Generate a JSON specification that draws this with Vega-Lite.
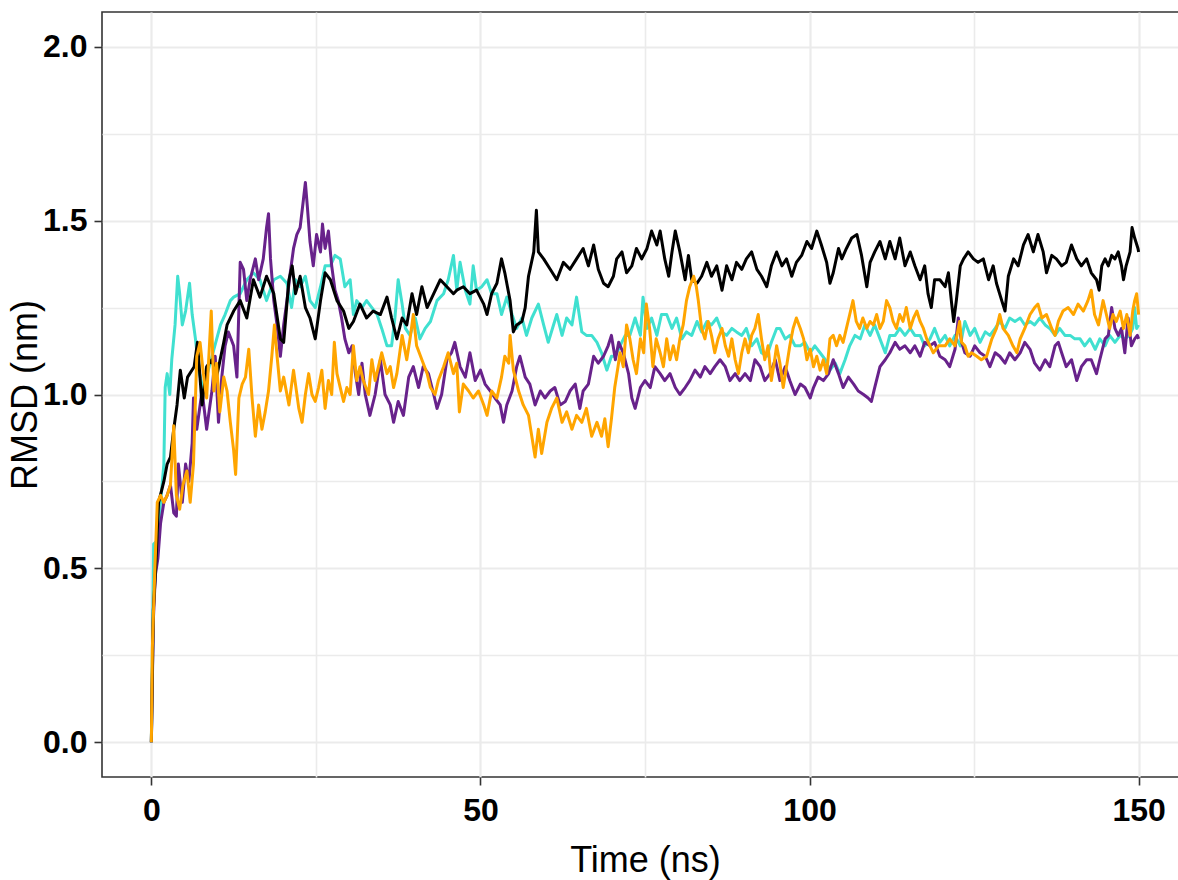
{
"$schema": "https://vega.github.io/schema/vega-lite/v6.json",
"width": 1086, "height": 765,
"autosize": {"type": "none"},
"padding": {"left": 102, "top": 12, "right": 0, "bottom": 103},
"background": "white",
"config": {"view": {"stroke": "#333333", "strokeWidth": 1.6}},
"data": {"values": [
{"s":"T","t":0,"v":0},{"s":"T","t":0.35,"v":0.57},{"s":"T","t":0.9,"v":0.58},{"s":"T","t":1.4,"v":0.69},{"s":"T","t":1.9,"v":0.8},{"s":"T","t":2.1,"v":1.02},{"s":"T","t":2.4,"v":1.06},{"s":"T","t":2.8,"v":1.0},{"s":"T","t":3.1,"v":1.1},{"s":"T","t":3.6,"v":1.2},{"s":"T","t":4.0,"v":1.34},{"s":"T","t":4.3,"v":1.29},{"s":"T","t":4.7,"v":1.2},{"s":"T","t":5.2,"v":1.24},{"s":"T","t":5.8,"v":1.32},{"s":"T","t":6.2,"v":1.23},{"s":"T","t":6.7,"v":1.16},{"s":"T","t":7.2,"v":1.07},{"s":"T","t":7.8,"v":1.02},{"s":"T","t":8.5,"v":1.06},{"s":"T","t":9.5,"v":1.13},{"s":"T","t":10.5,"v":1.2},{"s":"T","t":11.2,"v":1.23},{"s":"T","t":12.0,"v":1.27},{"s":"T","t":12.5,"v":1.28},{"s":"T","t":13.5,"v":1.29},{"s":"T","t":14.5,"v":1.33},{"s":"T","t":15.5,"v":1.35},{"s":"T","t":16.5,"v":1.33},{"s":"T","t":17.5,"v":1.27},{"s":"T","t":18.6,"v":1.33},{"s":"T","t":19.6,"v":1.34},{"s":"T","t":20.6,"v":1.32},{"s":"T","t":21.3,"v":1.25},{"s":"T","t":21.9,"v":1.33},{"s":"T","t":22.6,"v":1.31},{"s":"T","t":23.4,"v":1.34},{"s":"T","t":24.1,"v":1.27},{"s":"T","t":24.9,"v":1.25},{"s":"T","t":25.7,"v":1.31},{"s":"T","t":26.4,"v":1.37},{"s":"T","t":27.2,"v":1.37},{"s":"T","t":27.9,"v":1.4},{"s":"T","t":28.7,"v":1.39},{"s":"T","t":29.4,"v":1.31},{"s":"T","t":30.2,"v":1.33},{"s":"T","t":30.7,"v":1.23},{"s":"T","t":31.2,"v":1.27},{"s":"T","t":32.0,"v":1.25},{"s":"T","t":32.7,"v":1.27},{"s":"T","t":33.5,"v":1.25},{"s":"T","t":34.3,"v":1.23},{"s":"T","t":35.0,"v":1.19},{"s":"T","t":35.8,"v":1.14},{"s":"T","t":36.5,"v":1.14},{"s":"T","t":37.0,"v":1.22},{"s":"T","t":37.5,"v":1.33},{"s":"T","t":38.1,"v":1.26},{"s":"T","t":38.6,"v":1.19},{"s":"T","t":39.3,"v":1.17},{"s":"T","t":40.1,"v":1.22},{"s":"T","t":40.8,"v":1.16},{"s":"T","t":41.6,"v":1.19},{"s":"T","t":42.4,"v":1.21},{"s":"T","t":43.4,"v":1.27},{"s":"T","t":44.4,"v":1.29},{"s":"T","t":45.1,"v":1.33},{"s":"T","t":45.9,"v":1.4},{"s":"T","t":46.4,"v":1.3},{"s":"T","t":46.9,"v":1.38},{"s":"T","t":47.7,"v":1.3},{"s":"T","t":48.4,"v":1.26},{"s":"T","t":48.9,"v":1.37},{"s":"T","t":49.4,"v":1.3},{"s":"T","t":50.2,"v":1.31},{"s":"T","t":51.0,"v":1.33},{"s":"T","t":51.7,"v":1.29},{"s":"T","t":52.5,"v":1.29},{"s":"T","t":53.2,"v":1.23},{"s":"T","t":54.0,"v":1.28},{"s":"T","t":54.8,"v":1.23},{"s":"T","t":55.5,"v":1.19},{"s":"T","t":56.3,"v":1.22},{"s":"T","t":57.0,"v":1.17},{"s":"T","t":57.8,"v":1.22},{"s":"T","t":58.8,"v":1.26},{"s":"T","t":59.6,"v":1.2},{"s":"T","t":60.3,"v":1.15},{"s":"T","t":61.1,"v":1.2},{"s":"T","t":61.6,"v":1.23},{"s":"T","t":62.4,"v":1.17},{"s":"T","t":63.1,"v":1.22},{"s":"T","t":63.9,"v":1.2},{"s":"T","t":64.6,"v":1.28},{"s":"T","t":65.4,"v":1.18},{"s":"T","t":66.1,"v":1.17},{"s":"T","t":66.9,"v":1.17},{"s":"T","t":67.7,"v":1.15},{"s":"T","t":68.4,"v":1.12},{"s":"T","t":69.2,"v":1.07},{"s":"T","t":69.9,"v":1.11},{"s":"T","t":70.5,"v":1.11},{"s":"T","t":71.2,"v":1.14},{"s":"T","t":72.0,"v":1.17},{"s":"T","t":72.7,"v":1.17},{"s":"T","t":73.5,"v":1.22},{"s":"T","t":74.3,"v":1.17},{"s":"T","t":74.7,"v":1.28},{"s":"T","t":75.3,"v":1.19},{"s":"T","t":76.0,"v":1.22},{"s":"T","t":76.8,"v":1.17},{"s":"T","t":77.5,"v":1.23},{"s":"T","t":78.3,"v":1.23},{"s":"T","t":79.1,"v":1.19},{"s":"T","t":79.8,"v":1.22},{"s":"T","t":80.6,"v":1.16},{"s":"T","t":81.3,"v":1.18},{"s":"T","t":82.1,"v":1.17},{"s":"T","t":82.9,"v":1.21},{"s":"T","t":83.6,"v":1.18},{"s":"T","t":84.4,"v":1.21},{"s":"T","t":85.1,"v":1.2},{"s":"T","t":85.9,"v":1.22},{"s":"T","t":86.7,"v":1.18},{"s":"T","t":87.4,"v":1.17},{"s":"T","t":88.2,"v":1.19},{"s":"T","t":88.9,"v":1.18},{"s":"T","t":89.7,"v":1.17},{"s":"T","t":90.4,"v":1.19},{"s":"T","t":91.2,"v":1.14},{"s":"T","t":92.0,"v":1.16},{"s":"T","t":92.7,"v":1.12},{"s":"T","t":93.5,"v":1.11},{"s":"T","t":94.2,"v":1.15},{"s":"T","t":95.0,"v":1.19},{"s":"T","t":95.5,"v":1.19},{"s":"T","t":96.3,"v":1.16},{"s":"T","t":97.0,"v":1.17},{"s":"T","t":97.8,"v":1.14},{"s":"T","t":98.6,"v":1.14},{"s":"T","t":99.3,"v":1.15},{"s":"T","t":100.1,"v":1.12},{"s":"T","t":100.8,"v":1.14},{"s":"T","t":101.6,"v":1.12},{"s":"T","t":102.4,"v":1.1},{"s":"T","t":103.1,"v":1.07},{"s":"T","t":103.9,"v":1.09},{"s":"T","t":104.6,"v":1.06},{"s":"T","t":105.4,"v":1.1},{"s":"T","t":106.1,"v":1.14},{"s":"T","t":106.9,"v":1.17},{"s":"T","t":107.7,"v":1.16},{"s":"T","t":108.4,"v":1.2},{"s":"T","t":109.2,"v":1.17},{"s":"T","t":109.9,"v":1.2},{"s":"T","t":110.7,"v":1.16},{"s":"T","t":111.5,"v":1.12},{"s":"T","t":112.2,"v":1.17},{"s":"T","t":113.0,"v":1.17},{"s":"T","t":113.7,"v":1.19},{"s":"T","t":114.5,"v":1.17},{"s":"T","t":115.3,"v":1.19},{"s":"T","t":116.0,"v":1.17},{"s":"T","t":116.8,"v":1.17},{"s":"T","t":117.5,"v":1.14},{"s":"T","t":118.3,"v":1.16},{"s":"T","t":119.0,"v":1.19},{"s":"T","t":119.8,"v":1.15},{"s":"T","t":120.6,"v":1.17},{"s":"T","t":121.3,"v":1.14},{"s":"T","t":122.1,"v":1.17},{"s":"T","t":122.9,"v":1.14},{"s":"T","t":123.6,"v":1.21},{"s":"T","t":124.4,"v":1.17},{"s":"T","t":125.1,"v":1.19},{"s":"T","t":125.9,"v":1.15},{"s":"T","t":126.7,"v":1.18},{"s":"T","t":127.4,"v":1.17},{"s":"T","t":128.2,"v":1.19},{"s":"T","t":128.9,"v":1.21},{"s":"T","t":129.7,"v":1.19},{"s":"T","t":130.4,"v":1.22},{"s":"T","t":131.2,"v":1.21},{"s":"T","t":132.0,"v":1.22},{"s":"T","t":132.7,"v":1.2},{"s":"T","t":133.5,"v":1.21},{"s":"T","t":134.2,"v":1.2},{"s":"T","t":135.0,"v":1.22},{"s":"T","t":135.8,"v":1.2},{"s":"T","t":136.5,"v":1.19},{"s":"T","t":137.3,"v":1.17},{"s":"T","t":138.0,"v":1.19},{"s":"T","t":138.8,"v":1.17},{"s":"T","t":139.6,"v":1.17},{"s":"T","t":140.3,"v":1.16},{"s":"T","t":141.1,"v":1.16},{"s":"T","t":141.8,"v":1.14},{"s":"T","t":142.6,"v":1.16},{"s":"T","t":143.4,"v":1.13},{"s":"T","t":144.1,"v":1.16},{"s":"T","t":144.9,"v":1.14},{"s":"T","t":145.6,"v":1.17},{"s":"T","t":146.4,"v":1.15},{"s":"T","t":147.2,"v":1.17},{"s":"T","t":147.9,"v":1.16},{"s":"T","t":148.6,"v":1.17},{"s":"T","t":149.1,"v":1.19},{"s":"T","t":149.4,"v":1.25},{"s":"T","t":149.7,"v":1.19},{"s":"T","t":150.0,"v":1.2},
{"s":"P","t":0,"v":0},{"s":"P","t":0.3,"v":0.35},{"s":"P","t":0.6,"v":0.48},{"s":"P","t":1.0,"v":0.53},{"s":"P","t":1.4,"v":0.63},{"s":"P","t":1.9,"v":0.69},{"s":"P","t":2.4,"v":0.71},{"s":"P","t":2.9,"v":0.74},{"s":"P","t":3.4,"v":0.66},{"s":"P","t":3.8,"v":0.65},{"s":"P","t":4.1,"v":0.8},{"s":"P","t":4.7,"v":0.69},{"s":"P","t":5.2,"v":0.8},{"s":"P","t":5.7,"v":0.75},{"s":"P","t":6.2,"v":0.86},{"s":"P","t":6.4,"v":0.99},{"s":"P","t":6.9,"v":0.9},{"s":"P","t":7.7,"v":1.01},{"s":"P","t":8.4,"v":0.9},{"s":"P","t":9.2,"v":1.01},{"s":"P","t":9.7,"v":1.11},{"s":"P","t":10.2,"v":0.92},{"s":"P","t":10.7,"v":1.05},{"s":"P","t":11.2,"v":1.14},{"s":"P","t":11.7,"v":1.18},{"s":"P","t":12.5,"v":1.14},{"s":"P","t":13.0,"v":1.05},{"s":"P","t":13.5,"v":1.38},{"s":"P","t":14.0,"v":1.36},{"s":"P","t":14.5,"v":1.27},{"s":"P","t":15.0,"v":1.33},{"s":"P","t":15.8,"v":1.39},{"s":"P","t":16.3,"v":1.33},{"s":"P","t":17.0,"v":1.39},{"s":"P","t":17.5,"v":1.48},{"s":"P","t":17.8,"v":1.52},{"s":"P","t":18.1,"v":1.39},{"s":"P","t":18.6,"v":1.27},{"s":"P","t":19.1,"v":1.2},{"s":"P","t":19.6,"v":1.11},{"s":"P","t":20.1,"v":1.2},{"s":"P","t":20.6,"v":1.27},{"s":"P","t":21.1,"v":1.35},{"s":"P","t":21.6,"v":1.42},{"s":"P","t":22.1,"v":1.46},{"s":"P","t":22.6,"v":1.48},{"s":"P","t":23.1,"v":1.56},{"s":"P","t":23.4,"v":1.61},{"s":"P","t":23.7,"v":1.54},{"s":"P","t":24.1,"v":1.44},{"s":"P","t":24.6,"v":1.37},{"s":"P","t":25.1,"v":1.46},{"s":"P","t":25.7,"v":1.41},{"s":"P","t":26.0,"v":1.49},{"s":"P","t":26.4,"v":1.42},{"s":"P","t":26.9,"v":1.47},{"s":"P","t":27.4,"v":1.37},{"s":"P","t":27.9,"v":1.3},{"s":"P","t":28.4,"v":1.27},{"s":"P","t":28.9,"v":1.22},{"s":"P","t":29.4,"v":1.16},{"s":"P","t":30.0,"v":1.12},{"s":"P","t":30.5,"v":1.14},{"s":"P","t":31.0,"v":1.06},{"s":"P","t":31.5,"v":1.0},{"s":"P","t":32.0,"v":1.09},{"s":"P","t":32.5,"v":1.0},{"s":"P","t":33.2,"v":0.94},{"s":"P","t":34.0,"v":1.0},{"s":"P","t":34.8,"v":1.1},{"s":"P","t":35.5,"v":1.0},{"s":"P","t":36.3,"v":0.97},{"s":"P","t":36.8,"v":0.92},{"s":"P","t":37.5,"v":0.98},{"s":"P","t":38.3,"v":0.94},{"s":"P","t":39.1,"v":1.05},{"s":"P","t":39.8,"v":1.08},{"s":"P","t":40.6,"v":1.02},{"s":"P","t":41.3,"v":1.08},{"s":"P","t":42.1,"v":1.06},{"s":"P","t":42.9,"v":1.0},{"s":"P","t":43.4,"v":0.96},{"s":"P","t":44.1,"v":1.0},{"s":"P","t":44.9,"v":1.1},{"s":"P","t":45.6,"v":1.12},{"s":"P","t":46.1,"v":1.15},{"s":"P","t":46.9,"v":1.08},{"s":"P","t":47.7,"v":1.05},{"s":"P","t":48.4,"v":1.12},{"s":"P","t":49.2,"v":1.04},{"s":"P","t":50.0,"v":1.07},{"s":"P","t":50.7,"v":1.03},{"s":"P","t":51.5,"v":1.01},{"s":"P","t":52.2,"v":0.99},{"s":"P","t":53.0,"v":0.97},{"s":"P","t":53.5,"v":0.92},{"s":"P","t":54.0,"v":0.97},{"s":"P","t":54.8,"v":1.01},{"s":"P","t":55.5,"v":1.08},{"s":"P","t":56.0,"v":1.11},{"s":"P","t":56.8,"v":1.05},{"s":"P","t":57.5,"v":1.03},{"s":"P","t":58.3,"v":0.97},{"s":"P","t":59.1,"v":1.01},{"s":"P","t":59.8,"v":0.99},{"s":"P","t":60.6,"v":1.01},{"s":"P","t":61.3,"v":1.02},{"s":"P","t":62.1,"v":0.97},{"s":"P","t":62.9,"v":0.98},{"s":"P","t":63.6,"v":1.01},{"s":"P","t":64.4,"v":1.03},{"s":"P","t":65.1,"v":0.96},{"s":"P","t":65.6,"v":1.01},{"s":"P","t":66.4,"v":1.03},{"s":"P","t":67.2,"v":1.11},{"s":"P","t":67.9,"v":1.09},{"s":"P","t":68.7,"v":1.11},{"s":"P","t":69.4,"v":1.14},{"s":"P","t":69.9,"v":1.17},{"s":"P","t":70.5,"v":1.1},{"s":"P","t":71.0,"v":1.15},{"s":"P","t":71.7,"v":1.12},{"s":"P","t":72.5,"v":1.06},{"s":"P","t":73.0,"v":0.99},{"s":"P","t":73.5,"v":0.96},{"s":"P","t":74.3,"v":1.02},{"s":"P","t":75.0,"v":1.04},{"s":"P","t":75.8,"v":1.02},{"s":"P","t":76.5,"v":1.08},{"s":"P","t":77.3,"v":1.06},{"s":"P","t":78.0,"v":1.04},{"s":"P","t":78.8,"v":1.06},{"s":"P","t":79.6,"v":1.02},{"s":"P","t":80.3,"v":1.0},{"s":"P","t":81.1,"v":1.02},{"s":"P","t":81.8,"v":1.04},{"s":"P","t":82.6,"v":1.07},{"s":"P","t":83.4,"v":1.05},{"s":"P","t":84.1,"v":1.08},{"s":"P","t":84.9,"v":1.06},{"s":"P","t":85.6,"v":1.08},{"s":"P","t":86.4,"v":1.1},{"s":"P","t":87.2,"v":1.08},{"s":"P","t":87.9,"v":1.04},{"s":"P","t":88.7,"v":1.06},{"s":"P","t":89.4,"v":1.04},{"s":"P","t":90.2,"v":1.06},{"s":"P","t":91.0,"v":1.04},{"s":"P","t":91.7,"v":1.1},{"s":"P","t":92.5,"v":1.08},{"s":"P","t":93.2,"v":1.04},{"s":"P","t":94.0,"v":1.06},{"s":"P","t":94.8,"v":1.1},{"s":"P","t":95.5,"v":1.04},{"s":"P","t":96.3,"v":1.08},{"s":"P","t":97.0,"v":1.04},{"s":"P","t":97.8,"v":1.0},{"s":"P","t":98.6,"v":1.03},{"s":"P","t":99.3,"v":1.02},{"s":"P","t":100.1,"v":0.99},{"s":"P","t":100.6,"v":1.02},{"s":"P","t":101.3,"v":1.05},{"s":"P","t":102.1,"v":1.04},{"s":"P","t":102.9,"v":1.06},{"s":"P","t":103.6,"v":1.1},{"s":"P","t":104.4,"v":1.06},{"s":"P","t":105.1,"v":1.02},{"s":"P","t":105.9,"v":1.05},{"s":"P","t":106.7,"v":1.03},{"s":"P","t":107.4,"v":1.01},{"s":"P","t":108.2,"v":1.0},{"s":"P","t":108.9,"v":0.99},{"s":"P","t":109.4,"v":0.98},{"s":"P","t":109.9,"v":1.02},{"s":"P","t":110.7,"v":1.08},{"s":"P","t":111.5,"v":1.1},{"s":"P","t":112.2,"v":1.12},{"s":"P","t":113.0,"v":1.15},{"s":"P","t":113.7,"v":1.13},{"s":"P","t":114.5,"v":1.14},{"s":"P","t":115.3,"v":1.12},{"s":"P","t":116.0,"v":1.14},{"s":"P","t":116.8,"v":1.11},{"s":"P","t":117.5,"v":1.15},{"s":"P","t":118.3,"v":1.14},{"s":"P","t":119.0,"v":1.15},{"s":"P","t":119.8,"v":1.11},{"s":"P","t":120.6,"v":1.1},{"s":"P","t":121.3,"v":1.08},{"s":"P","t":122.1,"v":1.13},{"s":"P","t":122.6,"v":1.22},{"s":"P","t":123.1,"v":1.15},{"s":"P","t":123.6,"v":1.12},{"s":"P","t":124.4,"v":1.11},{"s":"P","t":125.1,"v":1.14},{"s":"P","t":125.9,"v":1.12},{"s":"P","t":126.7,"v":1.11},{"s":"P","t":127.4,"v":1.08},{"s":"P","t":128.2,"v":1.12},{"s":"P","t":128.9,"v":1.11},{"s":"P","t":129.7,"v":1.09},{"s":"P","t":130.4,"v":1.12},{"s":"P","t":131.2,"v":1.1},{"s":"P","t":132.0,"v":1.12},{"s":"P","t":132.7,"v":1.15},{"s":"P","t":133.5,"v":1.13},{"s":"P","t":134.2,"v":1.09},{"s":"P","t":135.0,"v":1.07},{"s":"P","t":135.8,"v":1.1},{"s":"P","t":136.5,"v":1.08},{"s":"P","t":137.3,"v":1.14},{"s":"P","t":137.8,"v":1.15},{"s":"P","t":138.3,"v":1.12},{"s":"P","t":139.0,"v":1.08},{"s":"P","t":139.8,"v":1.1},{"s":"P","t":140.6,"v":1.04},{"s":"P","t":141.3,"v":1.08},{"s":"P","t":142.1,"v":1.1},{"s":"P","t":142.8,"v":1.1},{"s":"P","t":143.6,"v":1.06},{"s":"P","t":144.1,"v":1.1},{"s":"P","t":144.9,"v":1.16},{"s":"P","t":145.4,"v":1.17},{"s":"P","t":145.9,"v":1.25},{"s":"P","t":146.4,"v":1.19},{"s":"P","t":146.9,"v":1.17},{"s":"P","t":147.4,"v":1.19},{"s":"P","t":147.9,"v":1.12},{"s":"P","t":148.4,"v":1.22},{"s":"P","t":148.9,"v":1.14},{"s":"P","t":149.4,"v":1.16},{"s":"P","t":149.8,"v":1.17},{"s":"P","t":150.0,"v":1.16},
{"s":"K","t":0,"v":0},{"s":"K","t":0.3,"v":0.38},{"s":"K","t":0.6,"v":0.48},{"s":"K","t":1.1,"v":0.69},{"s":"K","t":1.9,"v":0.75},{"s":"K","t":2.4,"v":0.8},{"s":"K","t":2.9,"v":0.82},{"s":"K","t":3.4,"v":0.9},{"s":"K","t":3.9,"v":0.97},{"s":"K","t":4.4,"v":1.07},{"s":"K","t":5.0,"v":0.99},{"s":"K","t":5.5,"v":1.05},{"s":"K","t":6.5,"v":1.08},{"s":"K","t":7.0,"v":1.15},{"s":"K","t":7.7,"v":0.97},{"s":"K","t":8.4,"v":1.08},{"s":"K","t":9.2,"v":1.1},{"s":"K","t":9.9,"v":1.05},{"s":"K","t":11.0,"v":1.15},{"s":"K","t":11.5,"v":1.2},{"s":"K","t":12.5,"v":1.24},{"s":"K","t":13.5,"v":1.27},{"s":"K","t":14.5,"v":1.22},{"s":"K","t":15.5,"v":1.33},{"s":"K","t":16.5,"v":1.28},{"s":"K","t":17.5,"v":1.34},{"s":"K","t":18.6,"v":1.29},{"s":"K","t":19.6,"v":1.16},{"s":"K","t":20.1,"v":1.15},{"s":"K","t":20.9,"v":1.33},{"s":"K","t":21.4,"v":1.37},{"s":"K","t":21.9,"v":1.29},{"s":"K","t":22.6,"v":1.34},{"s":"K","t":23.4,"v":1.25},{"s":"K","t":24.1,"v":1.22},{"s":"K","t":24.9,"v":1.16},{"s":"K","t":25.7,"v":1.27},{"s":"K","t":26.4,"v":1.35},{"s":"K","t":27.2,"v":1.33},{"s":"K","t":28.2,"v":1.27},{"s":"K","t":29.2,"v":1.24},{"s":"K","t":30.0,"v":1.19},{"s":"K","t":30.7,"v":1.21},{"s":"K","t":31.7,"v":1.26},{"s":"K","t":32.7,"v":1.22},{"s":"K","t":33.7,"v":1.24},{"s":"K","t":34.8,"v":1.23},{"s":"K","t":35.8,"v":1.28},{"s":"K","t":36.5,"v":1.22},{"s":"K","t":37.3,"v":1.16},{"s":"K","t":38.1,"v":1.22},{"s":"K","t":38.8,"v":1.2},{"s":"K","t":39.6,"v":1.29},{"s":"K","t":40.3,"v":1.23},{"s":"K","t":41.1,"v":1.31},{"s":"K","t":41.9,"v":1.25},{"s":"K","t":42.9,"v":1.29},{"s":"K","t":43.9,"v":1.33},{"s":"K","t":44.9,"v":1.31},{"s":"K","t":45.9,"v":1.29},{"s":"K","t":46.4,"v":1.3},{"s":"K","t":47.4,"v":1.31},{"s":"K","t":48.4,"v":1.29},{"s":"K","t":49.4,"v":1.3},{"s":"K","t":50.5,"v":1.26},{"s":"K","t":51.0,"v":1.23},{"s":"K","t":51.7,"v":1.29},{"s":"K","t":52.5,"v":1.32},{"s":"K","t":53.2,"v":1.39},{"s":"K","t":53.7,"v":1.35},{"s":"K","t":54.5,"v":1.27},{"s":"K","t":55.0,"v":1.18},{"s":"K","t":55.5,"v":1.2},{"s":"K","t":56.3,"v":1.21},{"s":"K","t":56.8,"v":1.25},{"s":"K","t":57.3,"v":1.34},{"s":"K","t":58.1,"v":1.41},{"s":"K","t":58.5,"v":1.53},{"s":"K","t":58.8,"v":1.41},{"s":"K","t":59.6,"v":1.39},{"s":"K","t":60.6,"v":1.36},{"s":"K","t":61.6,"v":1.33},{"s":"K","t":62.6,"v":1.38},{"s":"K","t":63.6,"v":1.36},{"s":"K","t":64.6,"v":1.39},{"s":"K","t":65.6,"v":1.42},{"s":"K","t":66.4,"v":1.37},{"s":"K","t":67.2,"v":1.43},{"s":"K","t":67.9,"v":1.36},{"s":"K","t":68.7,"v":1.32},{"s":"K","t":69.4,"v":1.31},{"s":"K","t":70.2,"v":1.34},{"s":"K","t":70.7,"v":1.39},{"s":"K","t":71.5,"v":1.41},{"s":"K","t":72.2,"v":1.35},{"s":"K","t":73.0,"v":1.37},{"s":"K","t":73.7,"v":1.42},{"s":"K","t":74.5,"v":1.39},{"s":"K","t":75.3,"v":1.42},{"s":"K","t":76.0,"v":1.47},{"s":"K","t":76.8,"v":1.43},{"s":"K","t":77.3,"v":1.47},{"s":"K","t":78.0,"v":1.39},{"s":"K","t":78.6,"v":1.34},{"s":"K","t":79.1,"v":1.41},{"s":"K","t":79.6,"v":1.47},{"s":"K","t":80.3,"v":1.41},{"s":"K","t":81.1,"v":1.33},{"s":"K","t":81.6,"v":1.4},{"s":"K","t":82.1,"v":1.33},{"s":"K","t":82.9,"v":1.32},{"s":"K","t":83.6,"v":1.34},{"s":"K","t":84.4,"v":1.38},{"s":"K","t":85.1,"v":1.34},{"s":"K","t":85.9,"v":1.37},{"s":"K","t":86.7,"v":1.3},{"s":"K","t":87.4,"v":1.37},{"s":"K","t":88.2,"v":1.33},{"s":"K","t":88.9,"v":1.38},{"s":"K","t":89.7,"v":1.36},{"s":"K","t":90.4,"v":1.39},{"s":"K","t":91.2,"v":1.41},{"s":"K","t":92.0,"v":1.36},{"s":"K","t":92.7,"v":1.34},{"s":"K","t":93.5,"v":1.31},{"s":"K","t":94.2,"v":1.37},{"s":"K","t":95.0,"v":1.41},{"s":"K","t":95.8,"v":1.37},{"s":"K","t":96.5,"v":1.39},{"s":"K","t":97.3,"v":1.34},{"s":"K","t":98.0,"v":1.38},{"s":"K","t":98.8,"v":1.4},{"s":"K","t":99.6,"v":1.44},{"s":"K","t":100.3,"v":1.42},{"s":"K","t":101.1,"v":1.47},{"s":"K","t":101.8,"v":1.43},{"s":"K","t":102.6,"v":1.38},{"s":"K","t":103.1,"v":1.32},{"s":"K","t":103.6,"v":1.35},{"s":"K","t":104.4,"v":1.42},{"s":"K","t":104.9,"v":1.39},{"s":"K","t":105.6,"v":1.42},{"s":"K","t":106.4,"v":1.45},{"s":"K","t":107.2,"v":1.46},{"s":"K","t":107.9,"v":1.4},{"s":"K","t":108.7,"v":1.31},{"s":"K","t":109.2,"v":1.38},{"s":"K","t":109.9,"v":1.41},{"s":"K","t":110.7,"v":1.44},{"s":"K","t":111.5,"v":1.39},{"s":"K","t":112.2,"v":1.44},{"s":"K","t":113.0,"v":1.39},{"s":"K","t":113.7,"v":1.45},{"s":"K","t":114.5,"v":1.37},{"s":"K","t":115.3,"v":1.41},{"s":"K","t":116.0,"v":1.37},{"s":"K","t":116.8,"v":1.33},{"s":"K","t":117.5,"v":1.37},{"s":"K","t":118.0,"v":1.29},{"s":"K","t":118.5,"v":1.25},{"s":"K","t":119.0,"v":1.33},{"s":"K","t":119.8,"v":1.33},{"s":"K","t":120.6,"v":1.31},{"s":"K","t":121.1,"v":1.35},{"s":"K","t":121.6,"v":1.26},{"s":"K","t":121.9,"v":1.21},{"s":"K","t":122.3,"v":1.27},{"s":"K","t":122.9,"v":1.37},{"s":"K","t":123.4,"v":1.39},{"s":"K","t":124.1,"v":1.41},{"s":"K","t":124.9,"v":1.39},{"s":"K","t":125.6,"v":1.38},{"s":"K","t":126.4,"v":1.39},{"s":"K","t":127.2,"v":1.33},{"s":"K","t":127.9,"v":1.37},{"s":"K","t":128.4,"v":1.32},{"s":"K","t":129.2,"v":1.27},{"s":"K","t":129.7,"v":1.24},{"s":"K","t":130.2,"v":1.34},{"s":"K","t":131.0,"v":1.39},{"s":"K","t":131.7,"v":1.37},{"s":"K","t":132.5,"v":1.43},{"s":"K","t":133.2,"v":1.46},{"s":"K","t":134.0,"v":1.41},{"s":"K","t":134.7,"v":1.46},{"s":"K","t":135.5,"v":1.41},{"s":"K","t":136.0,"v":1.35},{"s":"K","t":136.8,"v":1.4},{"s":"K","t":137.5,"v":1.39},{"s":"K","t":138.3,"v":1.37},{"s":"K","t":139.0,"v":1.38},{"s":"K","t":139.8,"v":1.43},{"s":"K","t":140.6,"v":1.39},{"s":"K","t":141.3,"v":1.37},{"s":"K","t":142.1,"v":1.39},{"s":"K","t":142.8,"v":1.35},{"s":"K","t":143.6,"v":1.33},{"s":"K","t":144.0,"v":1.3},{"s":"K","t":144.4,"v":1.37},{"s":"K","t":144.9,"v":1.39},{"s":"K","t":145.4,"v":1.37},{"s":"K","t":145.9,"v":1.4},{"s":"K","t":146.4,"v":1.39},{"s":"K","t":146.9,"v":1.41},{"s":"K","t":147.4,"v":1.37},{"s":"K","t":147.7,"v":1.33},{"s":"K","t":148.1,"v":1.37},{"s":"K","t":148.4,"v":1.39},{"s":"K","t":148.7,"v":1.41},{"s":"K","t":149.0,"v":1.48},{"s":"K","t":149.4,"v":1.45},{"s":"K","t":149.9,"v":1.42},{"s":"K","t":150.0,"v":1.41},
{"s":"O","t":0,"v":0},{"s":"O","t":0.15,"v":0.27},{"s":"O","t":0.5,"v":0.48},{"s":"O","t":0.9,"v":0.69},{"s":"O","t":1.4,"v":0.71},{"s":"O","t":1.9,"v":0.69},{"s":"O","t":2.4,"v":0.71},{"s":"O","t":2.9,"v":0.74},{"s":"O","t":3.4,"v":0.91},{"s":"O","t":3.8,"v":0.71},{"s":"O","t":4.3,"v":0.67},{"s":"O","t":4.8,"v":0.74},{"s":"O","t":5.4,"v":0.78},{"s":"O","t":5.9,"v":0.69},{"s":"O","t":6.4,"v":0.8},{"s":"O","t":6.9,"v":1.11},{"s":"O","t":7.4,"v":1.15},{"s":"O","t":7.9,"v":1.06},{"s":"O","t":8.4,"v":0.99},{"s":"O","t":9.1,"v":1.24},{"s":"O","t":9.5,"v":1.01},{"s":"O","t":9.9,"v":1.09},{"s":"O","t":10.4,"v":0.95},{"s":"O","t":11.0,"v":1.05},{"s":"O","t":11.5,"v":1.01},{"s":"O","t":12.0,"v":0.92},{"s":"O","t":12.5,"v":0.84},{"s":"O","t":12.8,"v":0.77},{"s":"O","t":13.3,"v":0.99},{"s":"O","t":13.8,"v":1.03},{"s":"O","t":14.3,"v":1.05},{"s":"O","t":14.8,"v":1.13},{"s":"O","t":15.3,"v":0.99},{"s":"O","t":15.8,"v":0.88},{"s":"O","t":16.3,"v":0.97},{"s":"O","t":16.8,"v":0.9},{"s":"O","t":17.3,"v":0.95},{"s":"O","t":17.8,"v":1.01},{"s":"O","t":18.3,"v":1.11},{"s":"O","t":18.7,"v":1.2},{"s":"O","t":19.1,"v":1.11},{"s":"O","t":19.6,"v":1.01},{"s":"O","t":20.1,"v":1.05},{"s":"O","t":20.9,"v":0.97},{"s":"O","t":21.6,"v":1.07},{"s":"O","t":22.4,"v":0.96},{"s":"O","t":22.9,"v":0.92},{"s":"O","t":23.4,"v":1.0},{"s":"O","t":23.9,"v":1.06},{"s":"O","t":24.4,"v":1.0},{"s":"O","t":24.9,"v":0.98},{"s":"O","t":25.4,"v":1.02},{"s":"O","t":25.9,"v":1.07},{"s":"O","t":26.4,"v":0.96},{"s":"O","t":26.9,"v":1.04},{"s":"O","t":27.4,"v":1.0},{"s":"O","t":27.8,"v":1.15},{"s":"O","t":28.2,"v":1.06},{"s":"O","t":28.7,"v":1.02},{"s":"O","t":29.2,"v":0.98},{"s":"O","t":29.7,"v":1.02},{"s":"O","t":30.2,"v":1.0},{"s":"O","t":30.7,"v":1.14},{"s":"O","t":31.2,"v":1.04},{"s":"O","t":31.7,"v":1.08},{"s":"O","t":32.2,"v":1.04},{"s":"O","t":33.0,"v":1.0},{"s":"O","t":33.5,"v":1.1},{"s":"O","t":34.0,"v":1.04},{"s":"O","t":34.5,"v":1.08},{"s":"O","t":35.0,"v":1.12},{"s":"O","t":35.8,"v":1.06},{"s":"O","t":36.3,"v":1.08},{"s":"O","t":36.8,"v":1.02},{"s":"O","t":37.3,"v":1.06},{"s":"O","t":38.1,"v":1.17},{"s":"O","t":38.8,"v":1.1},{"s":"O","t":39.3,"v":1.16},{"s":"O","t":39.8,"v":1.23},{"s":"O","t":40.3,"v":1.14},{"s":"O","t":41.1,"v":1.1},{"s":"O","t":41.9,"v":1.06},{"s":"O","t":42.4,"v":1.02},{"s":"O","t":43.1,"v":1.0},{"s":"O","t":43.6,"v":1.04},{"s":"O","t":44.4,"v":1.08},{"s":"O","t":45.1,"v":1.12},{"s":"O","t":45.9,"v":1.06},{"s":"O","t":46.4,"v":1.09},{"s":"O","t":46.8,"v":0.95},{"s":"O","t":47.4,"v":1.03},{"s":"O","t":48.2,"v":1.01},{"s":"O","t":48.9,"v":0.99},{"s":"O","t":49.7,"v":1.01},{"s":"O","t":50.5,"v":0.97},{"s":"O","t":51.0,"v":0.94},{"s":"O","t":51.7,"v":1.01},{"s":"O","t":52.5,"v":0.99},{"s":"O","t":53.2,"v":1.05},{"s":"O","t":53.7,"v":1.11},{"s":"O","t":54.3,"v":1.09},{"s":"O","t":54.5,"v":1.17},{"s":"O","t":55.0,"v":1.07},{"s":"O","t":55.8,"v":1.01},{"s":"O","t":56.5,"v":0.97},{"s":"O","t":57.3,"v":0.94},{"s":"O","t":57.8,"v":0.88},{"s":"O","t":58.3,"v":0.82},{"s":"O","t":58.8,"v":0.9},{"s":"O","t":59.3,"v":0.83},{"s":"O","t":60.1,"v":0.92},{"s":"O","t":60.8,"v":0.96},{"s":"O","t":61.6,"v":0.99},{"s":"O","t":62.4,"v":0.92},{"s":"O","t":63.1,"v":0.95},{"s":"O","t":63.9,"v":0.9},{"s":"O","t":64.6,"v":0.94},{"s":"O","t":65.4,"v":0.92},{"s":"O","t":66.1,"v":0.96},{"s":"O","t":66.9,"v":0.88},{"s":"O","t":67.7,"v":0.92},{"s":"O","t":68.4,"v":0.88},{"s":"O","t":68.9,"v":0.93},{"s":"O","t":69.4,"v":0.85},{"s":"O","t":69.9,"v":0.93},{"s":"O","t":70.4,"v":1.02},{"s":"O","t":70.9,"v":1.08},{"s":"O","t":71.2,"v":1.12},{"s":"O","t":71.7,"v":1.08},{"s":"O","t":72.2,"v":1.2},{"s":"O","t":72.7,"v":1.16},{"s":"O","t":73.2,"v":1.1},{"s":"O","t":73.7,"v":1.06},{"s":"O","t":74.3,"v":1.16},{"s":"O","t":74.8,"v":1.12},{"s":"O","t":75.2,"v":1.26},{"s":"O","t":75.7,"v":1.19},{"s":"O","t":76.2,"v":1.08},{"s":"O","t":76.7,"v":1.16},{"s":"O","t":77.3,"v":1.12},{"s":"O","t":77.8,"v":1.08},{"s":"O","t":78.3,"v":1.16},{"s":"O","t":78.8,"v":1.1},{"s":"O","t":79.3,"v":1.14},{"s":"O","t":79.8,"v":1.1},{"s":"O","t":80.3,"v":1.16},{"s":"O","t":80.8,"v":1.2},{"s":"O","t":81.3,"v":1.27},{"s":"O","t":81.8,"v":1.31},{"s":"O","t":82.4,"v":1.34},{"s":"O","t":82.8,"v":1.31},{"s":"O","t":83.1,"v":1.27},{"s":"O","t":83.6,"v":1.19},{"s":"O","t":84.1,"v":1.16},{"s":"O","t":84.6,"v":1.21},{"s":"O","t":85.1,"v":1.17},{"s":"O","t":85.6,"v":1.12},{"s":"O","t":86.1,"v":1.16},{"s":"O","t":86.7,"v":1.19},{"s":"O","t":87.2,"v":1.14},{"s":"O","t":87.7,"v":1.11},{"s":"O","t":88.2,"v":1.16},{"s":"O","t":88.7,"v":1.1},{"s":"O","t":89.2,"v":1.06},{"s":"O","t":89.7,"v":1.12},{"s":"O","t":90.2,"v":1.16},{"s":"O","t":90.7,"v":1.12},{"s":"O","t":91.2,"v":1.17},{"s":"O","t":91.7,"v":1.19},{"s":"O","t":92.2,"v":1.23},{"s":"O","t":92.7,"v":1.16},{"s":"O","t":93.2,"v":1.1},{"s":"O","t":93.7,"v":1.14},{"s":"O","t":94.2,"v":1.04},{"s":"O","t":94.7,"v":1.1},{"s":"O","t":95.0,"v":1.14},{"s":"O","t":95.5,"v":1.09},{"s":"O","t":96.0,"v":1.02},{"s":"O","t":96.5,"v":1.08},{"s":"O","t":97.0,"v":1.14},{"s":"O","t":97.5,"v":1.19},{"s":"O","t":98.0,"v":1.22},{"s":"O","t":98.6,"v":1.19},{"s":"O","t":99.1,"v":1.16},{"s":"O","t":99.6,"v":1.1},{"s":"O","t":100.1,"v":1.13},{"s":"O","t":100.6,"v":1.08},{"s":"O","t":101.1,"v":1.11},{"s":"O","t":101.6,"v":1.07},{"s":"O","t":102.1,"v":1.1},{"s":"O","t":102.6,"v":1.06},{"s":"O","t":103.1,"v":1.16},{"s":"O","t":103.6,"v":1.17},{"s":"O","t":104.1,"v":1.14},{"s":"O","t":104.6,"v":1.17},{"s":"O","t":105.1,"v":1.15},{"s":"O","t":105.6,"v":1.19},{"s":"O","t":106.1,"v":1.23},{"s":"O","t":106.6,"v":1.27},{"s":"O","t":107.1,"v":1.21},{"s":"O","t":107.6,"v":1.19},{"s":"O","t":108.1,"v":1.22},{"s":"O","t":108.7,"v":1.19},{"s":"O","t":109.2,"v":1.21},{"s":"O","t":109.7,"v":1.2},{"s":"O","t":110.2,"v":1.23},{"s":"O","t":110.7,"v":1.19},{"s":"O","t":111.2,"v":1.21},{"s":"O","t":111.7,"v":1.27},{"s":"O","t":112.2,"v":1.25},{"s":"O","t":112.7,"v":1.21},{"s":"O","t":113.2,"v":1.19},{"s":"O","t":113.7,"v":1.23},{"s":"O","t":114.2,"v":1.21},{"s":"O","t":114.7,"v":1.25},{"s":"O","t":115.3,"v":1.19},{"s":"O","t":115.8,"v":1.22},{"s":"O","t":116.3,"v":1.24},{"s":"O","t":116.8,"v":1.21},{"s":"O","t":117.3,"v":1.19},{"s":"O","t":117.8,"v":1.16},{"s":"O","t":118.3,"v":1.14},{"s":"O","t":118.8,"v":1.12},{"s":"O","t":119.6,"v":1.14},{"s":"O","t":120.6,"v":1.14},{"s":"O","t":121.3,"v":1.16},{"s":"O","t":122.1,"v":1.14},{"s":"O","t":122.8,"v":1.21},{"s":"O","t":123.1,"v":1.15},{"s":"O","t":123.6,"v":1.14},{"s":"O","t":124.1,"v":1.11},{"s":"O","t":124.6,"v":1.12},{"s":"O","t":125.4,"v":1.11},{"s":"O","t":126.1,"v":1.1},{"s":"O","t":126.9,"v":1.11},{"s":"O","t":127.7,"v":1.16},{"s":"O","t":128.4,"v":1.19},{"s":"O","t":128.9,"v":1.23},{"s":"O","t":129.4,"v":1.19},{"s":"O","t":130.2,"v":1.17},{"s":"O","t":130.9,"v":1.14},{"s":"O","t":131.5,"v":1.12},{"s":"O","t":132.0,"v":1.16},{"s":"O","t":132.7,"v":1.19},{"s":"O","t":133.5,"v":1.23},{"s":"O","t":134.2,"v":1.25},{"s":"O","t":134.7,"v":1.26},{"s":"O","t":135.3,"v":1.22},{"s":"O","t":136.0,"v":1.23},{"s":"O","t":136.8,"v":1.19},{"s":"O","t":137.3,"v":1.17},{"s":"O","t":137.8,"v":1.21},{"s":"O","t":138.5,"v":1.24},{"s":"O","t":139.3,"v":1.25},{"s":"O","t":140.1,"v":1.23},{"s":"O","t":140.8,"v":1.26},{"s":"O","t":141.6,"v":1.24},{"s":"O","t":142.3,"v":1.27},{"s":"O","t":142.8,"v":1.3},{"s":"O","t":143.3,"v":1.23},{"s":"O","t":143.9,"v":1.2},{"s":"O","t":144.6,"v":1.27},{"s":"O","t":145.1,"v":1.23},{"s":"O","t":145.6,"v":1.19},{"s":"O","t":146.1,"v":1.23},{"s":"O","t":146.6,"v":1.21},{"s":"O","t":147.2,"v":1.24},{"s":"O","t":147.7,"v":1.19},{"s":"O","t":148.2,"v":1.23},{"s":"O","t":148.7,"v":1.17},{"s":"O","t":149.1,"v":1.24},{"s":"O","t":149.4,"v":1.27},{"s":"O","t":149.7,"v":1.29},{"s":"O","t":150.0,"v":1.23}
]},
"mark": {"type": "line", "strokeWidth": 3, "strokeJoin": "round"},
"encoding": {
 "x": {"field": "t", "type": "quantitative",
  "scale": {"domain": [-7.5, 157.5], "nice": false, "zero": false},
  "axis": {"values": [0,25,50,75,100,125,150],
   "labelExpr": "datum.value % 50 === 0 ? datum.label : ''",
   "domain": false, "grid": true, "gridColor": "#EBEBEB",
   "gridWidth": {"condition": {"test": "datum.value % 50 === 0", "value": 2.2}, "value": 1.6},
   "tickSize": 8, "tickWidth": 1.6,
   "tickColor": {"condition": {"test": "datum.value % 50 === 0", "value": "#333333"}, "value": "rgba(0,0,0,0)"},
   "labelFont": "Liberation Sans", "labelFontSize": 32, "labelFontWeight": "bold", "labelColor": "#000000",
   "labelPadding": 10, "labelFlush": false, "labelOverlap": false,
   "title": "Time (ns)", "titleFont": "Liberation Sans", "titleFontSize": 36, "titleFontWeight": "normal", "titleColor": "#000000",
   "titleBaseline": "alphabetic", "titleY": 94}},
 "y": {"field": "v", "type": "quantitative",
  "scale": {"domain": [-0.1, 2.1], "nice": false, "zero": false},
  "axis": {"values": [0,0.25,0.5,0.75,1,1.25,1.5,1.75,2],
   "format": ".1f",
   "labelExpr": "datum.value % 0.5 === 0 ? datum.label : ''",
   "domain": false, "grid": true, "gridColor": "#EBEBEB",
   "gridWidth": {"condition": {"test": "datum.value % 0.5 === 0", "value": 2.2}, "value": 1.6},
   "tickSize": 8, "tickWidth": 1.6,
   "tickColor": {"condition": {"test": "datum.value % 0.5 === 0", "value": "#333333"}, "value": "rgba(0,0,0,0)"},
   "labelFont": "Liberation Sans", "labelFontSize": 32, "labelFontWeight": "bold", "labelColor": "#000000",
   "labelPadding": 7, "labelFlush": false, "labelOverlap": false,
   "title": "RMSD (nm)", "titleFont": "Liberation Sans", "titleFontSize": 36, "titleFontWeight": "normal", "titleColor": "#000000",
   "titleBaseline": "alphabetic", "titleAngle": -90, "titleX": -66, "titleY": 382.5}},
 "color": {"field": "s", "type": "nominal",
  "scale": {"domain": ["T","P","K","O"], "range": ["#40E0D0","#68228B","#000000","#FFA500"]},
  "legend": null}
}
}
